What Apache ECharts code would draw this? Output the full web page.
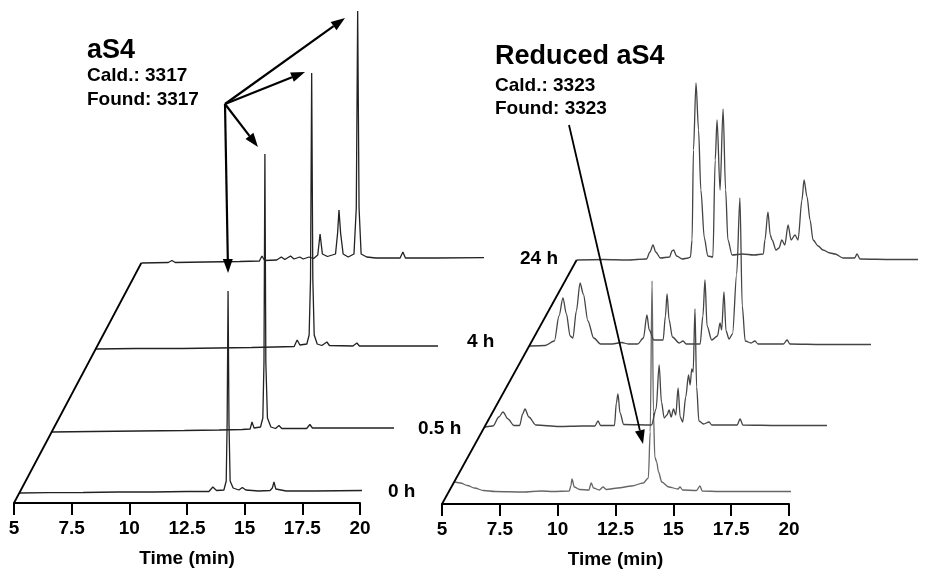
<!DOCTYPE html>
<html>
<head>
<meta charset="utf-8">
<title>aS4 / Reduced aS4 HPLC</title>
<script src="https://cdn.jsdelivr.net/npm/echarts/dist/echarts.min.js"></script>
<style>
  html, body { margin: 0; padding: 0; background: #fff; }
  #main { width: 950px; height: 572px; }
</style>
</head>
<body>
<div id="main"></div>
<script>
// time axis (min)
var timeTicks = [5, 7.5, 10, 12.5, 15, 17.5, 20];

// aS4 chromatograms, [time (min), absorbance (a.u.)]
var aS4_0h = [[5.23,0],[6.5,0.3],[8,0.5],[9.5,1],[11,1],[12.5,1.5],[13.45,1.5],[13.62,6],[13.78,2.5],[14.1,3],[14.2,12],[14.24,70],[14.28,202],[14.32,70],[14.37,12],[14.5,5],[14.75,3],[14.9,5.5],[15.05,3],[15.6,2],[16.1,2.5],[16.2,5],[16.27,11],[16.35,4],[16.8,2],[18,2],[20.13,2.5]];
var aS4_05h = [[5.23,0],[7,0.5],[9,1],[11,1.5],[12.5,2],[13.5,2.5],[13.85,3],[13.93,10],[14.02,4],[14.3,5],[14.4,14],[14.45,70],[14.49,278],[14.53,70],[14.6,14],[14.75,5],[14.95,3.5],[15.1,6.5],[15.22,3.5],[16.3,3.5],[16.44,7.5],[16.55,4],[18,4],[20.43,4]];
var aS4_4h = [[5.23,0],[7,0.5],[9,0.5],[10.5,1],[12,1.5],[13,2],[13.85,2.5],[13.98,9],[14.1,4],[14.4,5],[14.5,14],[14.56,70],[14.61,276],[14.66,70],[14.72,14],[14.85,5],[15.05,3.5],[15.27,7],[15.38,3.5],[16.4,3],[16.57,6],[16.68,3],[18,3],[20.39,3]];
var aS4_24h = [[5.23,0],[6.4,0.5],[6.56,2.5],[6.7,0.5],[8,1],[9.5,1.5],[10.35,2],[10.46,7],[10.58,2.5],[11.1,3],[11.3,6],[11.45,3.5],[11.7,7],[11.85,4],[12.1,6],[12.25,4],[12.5,6],[12.7,4.5],[12.88,8],[12.98,29],[13.08,9],[13.3,6.5],[13.65,9],[13.74,30],[13.8,53],[13.87,30],[13.98,9],[14.2,6],[14.45,9],[14.55,55],[14.61,252],[14.67,55],[14.76,9],[15.0,6],[15.4,5],[16.0,5],[16.45,5],[16.57,11],[16.68,5],[18,5],[20.56,5.5]];

// reduced aS4 chromatograms
var red_0h = [[5.56,10],[5.8,9],[6.1,6.5],[6.4,4],[6.8,1.5],[7.3,0.5],[8.5,0],[9.3,1],[9.8,0.5],[10.5,1],[10.57,6],[10.62,13],[10.72,5],[10.95,2.5],[11.35,2],[11.45,9],[11.55,4],[11.8,2],[11.96,5],[12.1,2.5],[12.6,4],[13.2,6],[13.7,9],[13.92,14],[14.0,60],[14.08,211],[14.14,80],[14.2,35],[14.28,30],[14.36,20],[14.5,10],[14.8,5],[15.2,3],[15.29,5],[15.4,2],[16.0,1.5],[16.15,6],[16.25,1],[17,0.5],[18.5,0.5],[20.56,0.5]];
var red_05h = [[5.3,0],[5.65,1],[5.9,10],[6.08,15],[6.3,8],[6.55,1.5],[6.8,1.5],[6.93,13],[7.03,18],[7.2,10],[7.5,2],[8.5,0.5],[9.5,1],[10.05,1],[10.19,6],[10.3,1.5],[10.9,1.5],[10.98,24],[11.05,33],[11.14,14],[11.3,2.5],[12.5,2],[12.7,18],[12.83,62],[12.93,25],[13.05,9],[13.17,12],[13.26,17],[13.35,10],[13.45,18],[13.55,12],[13.65,39],[13.74,10],[13.85,5],[13.98,30],[14.1,52],[14.17,42],[14.24,58],[14.3,55],[14.38,118],[14.45,40],[14.55,6],[14.75,3],[14.99,5],[15.1,2],[16.2,2],[16.33,8],[16.45,2],[18,1.5],[20.3,1.5]];
var red_4h = [[5.33,0],[6.0,0.5],[6.4,5],[6.6,30],[6.77,48],[6.92,32],[7.08,10],[7.2,8],[7.35,35],[7.51,63],[7.65,52],[7.85,25],[8.1,8],[8.4,2],[8.9,2],[9.3,3.5],[9.6,2],[10.0,2],[10.25,8],[10.4,31],[10.5,16],[10.7,6],[11.1,6],[11.2,30],[11.27,52],[11.36,26],[11.5,9],[11.8,3],[11.96,5],[12.1,2],[12.7,2],[12.82,30],[12.91,66],[13.0,20],[13.2,6],[13.45,10],[13.56,23],[13.63,16],[13.73,54],[13.82,15],[13.95,7],[14.1,12],[14.28,72],[14.42,148],[14.52,40],[14.65,5],[14.9,3],[15.07,5],[15.2,2],[16.3,2],[16.46,6],[16.58,2],[18,1.5],[20.35,1.5]];
var red_24h = [[5.33,0],[6.5,0.5],[7.5,0],[8.35,1],[8.5,8],[8.63,15],[8.75,8],[8.95,2],[9.35,3],[9.45,9],[9.52,10],[9.65,4],[9.9,1],[10.15,2],[10.25,3],[10.32,20],[10.38,110],[10.49,177],[10.6,130],[10.7,70],[10.85,22],[11.0,4],[11.22,3],[11.32,100],[11.4,140],[11.53,70],[11.66,151],[11.77,70],[11.87,20],[12.05,5],[12.5,6],[13.0,5],[13.4,6],[13.47,20],[13.6,48],[13.7,25],[13.78,20],[13.95,10],[14.08,12],[14.2,20],[14.33,15],[14.47,35],[14.6,20],[14.77,25],[14.9,20],[15.07,60],[15.16,80],[15.29,63],[15.42,40],[15.55,20],[15.77,14],[15.98,10],[16.28,7],[16.5,6],[16.85,2],[17.35,2],[17.45,6],[17.58,1],[19,0.5],[20.95,0.5]];

// arrow targets [time, absorbance] in each trace
var aS4Marks = [[14.06,245],[14.32,277],[14.19,285],[14.28,220]];
var redMark = [13.69,48];

var FONT = '"Liberation Sans", Arial, Helvetica, sans-serif';
var H = 572, TRACE_H = 250;

// panel layout: axis position + where each trace's baseline sits (waterfall offsets)
var panels = [
  { axisLeft: 14, axisWidth: 346, axisY: 503, smooth: false, traces: [
      { data: aS4_0h,  left: 14,  base: 493, color: '#222' },
      { data: aS4_05h, left: 46,  base: 432, color: '#222' },
      { data: aS4_4h,  left: 90,  base: 349, color: '#222' },
      { data: aS4_24h, left: 136, base: 263, color: '#222' } ] },
  { axisLeft: 442, axisWidth: 347, axisY: 504, smooth: 0.3, traces: [
      { data: red_0h,  left: 442, base: 492, color: '#666' },
      { data: red_05h, left: 478, base: 427, color: '#444' },
      { data: red_4h,  left: 522, base: 346, color: '#444' },
      { data: red_24h, left: 569, base: 260, color: '#444' } ] }
];

var grids = [], xAxes = [], yAxes = [], series = [];
var axisGridIdx = [], traceGridIdx = [];

panels.forEach(function (p, pi) {
  // visible time axis
  var gi = grids.length;
  axisGridIdx.push(gi);
  grids.push({ left: p.axisLeft, width: p.axisWidth, bottom: H - p.axisY, height: 100 });
  xAxes.push({
    gridIndex: gi, type: 'value',
    min: timeTicks[0], max: timeTicks[timeTicks.length - 1], interval: 2.5,
    axisLine: { lineStyle: { color: '#000', width: 2 } },
    axisTick: { inside: false, length: 12, lineStyle: { color: '#000', width: 2 } },
    axisLabel: { margin: 16, fontSize: 19, fontWeight: 'bold', color: '#000', fontFamily: FONT,
                 showMinLabel: true, showMaxLabel: true },
    splitLine: { show: false },
    name: 'Time (min)', nameLocation: 'middle', nameGap: 46,
    nameTextStyle: { fontSize: 19, fontWeight: 'bold', color: '#000', fontFamily: FONT }
  });
  yAxes.push({ gridIndex: gi, type: 'value', min: 0, max: 1, show: false });

  var tIdx = [];
  p.traces.forEach(function (tr) {
    var g = grids.length;
    tIdx.push(g);
    grids.push({ left: tr.left, width: p.axisWidth, bottom: H - tr.base, height: TRACE_H });
    xAxes.push({ gridIndex: g, type: 'value', min: 5, max: 20, show: false, splitLine: { show: false } });
    yAxes.push({ gridIndex: g, type: 'value', min: 0, max: TRACE_H, show: false, splitLine: { show: false } });
    series.push({
      type: 'line', xAxisIndex: g, yAxisIndex: g, data: tr.data,
      showSymbol: false, clip: false, silent: true,
      smooth: p.smooth, smoothMonotone: 'x',
      lineStyle: { color: tr.color, width: 1.3 }
    });
  });
  traceGridIdx.push(tIdx);
});

var chart = echarts.init(document.getElementById('main'));
chart.setOption({
  animation: false,
  backgroundColor: '#fff',
  grid: grids, xAxis: xAxes, yAxis: yAxes, series: series
});

function px(gridIndex, pt) {
  return chart.convertToPixel({ gridIndex: gridIndex }, pt);
}

function arrow(p0, p1, lw) {
  var dx = p1[0] - p0[0], dy = p1[1] - p0[1];
  var len = Math.sqrt(dx * dx + dy * dy);
  var ux = dx / len, uy = dy / len, hl = 14, hw = 5;
  var bx = p1[0] - ux * hl, by = p1[1] - uy * hl;
  return [
    { type: 'line', z: 50, shape: { x1: p0[0], y1: p0[1], x2: bx, y2: by },
      style: { stroke: '#000', lineWidth: lw } },
    { type: 'polygon', z: 50,
      shape: { points: [[p1[0], p1[1]], [bx - uy * hw, by + ux * hw], [bx + uy * hw, by - ux * hw]] },
      style: { fill: '#000' } }
  ];
}

function label(text, x, y, size) {
  return { type: 'text', z: 60, style: { text: text, x: x, y: y, fill: '#000',
    font: 'bold ' + size + 'px ' + FONT, verticalAlign: 'middle' } };
}

var gfx = [];
// waterfall frame: from axis origin up to the start of the 24 h trace
panels.forEach(function (p, pi) {
  var a = px(axisGridIdx[pi], [5, 0]);
  var last = traceGridIdx[pi][3];
  var b = px(last, p.traces[3].data[0]);
  gfx.push({ type: 'line', z: 40, shape: { x1: a[0], y1: a[1], x2: b[0], y2: b[1] },
             style: { stroke: '#000', lineWidth: 1.8 } });
});

// arrows aS4 -> main peak of each trace
var o1 = [225, 104];
var order = [3, 2, 1, 0];
aS4Marks.forEach(function (m, i) {
  var tip = px(traceGridIdx[0][order[i]], m);
  gfx = gfx.concat(arrow(o1, tip, 2.2));
});
gfx = gfx.concat(arrow([569, 125], px(traceGridIdx[1][0], redMark), 1.8));

gfx.push(label('aS4', 87, 51, 27));
gfx.push(label('Cald.: 3317', 87, 76, 19));
gfx.push(label('Found: 3317', 87, 100, 19));
gfx.push(label('Reduced aS4', 495, 57, 27));
gfx.push(label('Cald.: 3323', 495, 86, 19));
gfx.push(label('Found: 3323', 495, 109, 19));
gfx.push(label('0 h', 388, 492, 19));
gfx.push(label('0.5 h', 418, 429, 19));
gfx.push(label('4 h', 467, 342, 19));
gfx.push(label('24 h', 520, 259, 19));

chart.setOption({ graphic: gfx });
</script>
</body>
</html>
